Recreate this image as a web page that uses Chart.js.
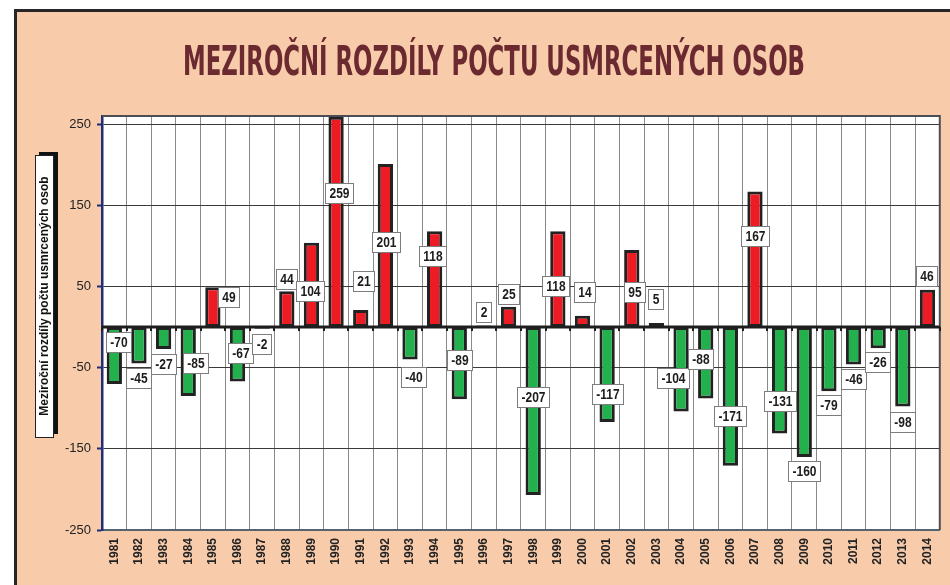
<!DOCTYPE html>
<html>
<head>
<meta charset="utf-8">
<script src="https://cdn.jsdelivr.net/npm/chart.js@4.4.1/dist/chart.umd.min.js"></script>
<style>
  html, body { margin: 0; padding: 0; background: #fff; }
  #wrap { width: 950px; height: 585px; }
</style>
</head>
<body>
<div id="wrap"><canvas id="chart" width="950" height="585"></canvas></div>
<script>
const years = ['1981', '1982', '1983', '1984', '1985', '1986', '1987', '1988', '1989', '1990',
    '1991', '1992', '1993', '1994', '1995', '1996', '1997', '1998', '1999', '2000',
    '2001', '2002', '2003', '2004', '2005', '2006', '2007', '2008', '2009', '2010',
    '2011', '2012', '2013', '2014'];
const diffs = [-70, -45, -27, -85, 49, -67, -2, 44, 104, 259,
    21, 201, -40, 118, -89, 2, 25, -207, 118, 14,
    -117, 95, 5, -104, -88, -171, 167, -131, -160, -79,
    -46, -26, -98, 46];
const yTicks = [-250, -150, -50, 50, 150, 250];

// where each value label sits (axis units) and its sideways nudge in px
const labelAt = [-19, -63, -46, -44, 37, -32, -21, 59, 45, 165,
    57, 105, -61, 87, -40, 18, 41, -86, 50, 43,
    -82, 43, 34, -63, -39, -110, 112, -91, -177, -96,
    -64, -43, -117, 63];
const labelShift = [5, 0, 0, 8, 16, 3, 0, 0, -1, 3,
    3, 1, 4, -2, 1, 0, 0, 0, -2, 3,
    1, 3, 0, -8, -5, 0, 0, 0, 0, 0,
    0, 0, 0, 0];

const chartTitle = 'MEZIROČNÍ ROZDÍLY POČTU USMRCENÝCH OSOB';
const axisTitle = 'Meziroční rozdíly počtu usmrcených osob';

const SANS = '"Liberation Sans", Arial, sans-serif';
const NARROW = '"Liberation Sans Narrow", "Arial Narrow", "DejaVu Sans Condensed", sans-serif';
const PEACH = '#f8cbab';

const framePlugin = {
    id: 'frame',
    beforeDraw(chart) {
        const { ctx, chartArea: a } = chart;
        ctx.save();
        ctx.fillStyle = '#fff';
        ctx.fillRect(0, 0, chart.width, chart.height);
        ctx.fillStyle = PEACH;
        ctx.fillRect(15, 10, chart.width - 15, chart.height - 10);
        ctx.fillStyle = '#262626';
        ctx.fillRect(14, 9, 3, chart.height - 9);
        ctx.fillRect(14, 9, chart.width - 14, 3);
        ctx.fillStyle = '#fff';
        ctx.fillRect(a.left, a.top, a.right - a.left, a.bottom - a.top);

        // title, squeezed to the width of the original lettering
        ctx.font = 'bold 40px ' + NARROW;
        ctx.fillStyle = '#6b2a30';
        ctx.textAlign = 'center';
        ctx.textBaseline = 'alphabetic';
        const w = ctx.measureText(chartTitle).width;
        ctx.translate(494, 75);
        ctx.scale(622 / w, 1);
        ctx.fillText(chartTitle, 0, 0);
        ctx.restore();

        // boxed y axis title with shadow
        ctx.save();
        ctx.fillStyle = '#111';
        ctx.fillRect(39, 152, 19, 282);
        ctx.fillStyle = '#fff';
        ctx.fillRect(35, 155, 18, 282);
        ctx.strokeStyle = '#222';
        ctx.lineWidth = 1;
        ctx.strokeRect(35.5, 155.5, 18, 282);
        ctx.translate(45, 296);
        ctx.rotate(-Math.PI / 2);
        ctx.font = 'bold 12px ' + SANS;
        ctx.fillStyle = '#111';
        ctx.textAlign = 'center';
        ctx.textBaseline = 'middle';
        ctx.fillText(axisTitle, 0, 0);
        ctx.restore();
    },
    afterDatasetsDraw(chart) {
        const { ctx, chartArea: a, scales: { x, y } } = chart;
        const zero = y.getPixelForValue(0);
        const half = (x.getPixelForValue(1) - x.getPixelForValue(0)) / 2;
        ctx.save();

        // plot frame top and right
        ctx.strokeStyle = '#4a4f55';
        ctx.lineWidth = 2;
        ctx.beginPath();
        ctx.moveTo(a.left, a.top);
        ctx.lineTo(a.right, a.top);
        ctx.lineTo(a.right, a.bottom);
        ctx.stroke();

        // category axis crossing at zero, with small ticks
        ctx.strokeStyle = '#1e1e1e';
        ctx.lineWidth = 3;
        ctx.beginPath();
        ctx.moveTo(a.left, zero);
        ctx.lineTo(a.right, zero);
        ctx.stroke();
        ctx.lineWidth = 2;
        ctx.beginPath();
        for (let i = 0; i <= years.length; i++) {
            const px = Math.round(x.getPixelForValue(i) - half);
            ctx.moveTo(px, zero);
            ctx.lineTo(px, zero + 4);
        }
        ctx.stroke();

        // value labels (narrowed Liberation Sans bold)
        const squeeze = 0.8;
        ctx.font = 'bold 15px ' + SANS;
        ctx.textAlign = 'center';
        ctx.textBaseline = 'middle';
        const meta = chart.getDatasetMeta(0);
        diffs.forEach((v, i) => {
            const txt = String(v);
            const cx = Math.round(meta.data[i].x + labelShift[i]);
            const cy = Math.round(y.getPixelForValue(labelAt[i]));
            const bw = Math.round(ctx.measureText(txt).width * squeeze + 8);
            const bh = 20;
            const bx = cx - Math.round(bw / 2);
            const by = cy - Math.round(bh / 2);
            ctx.fillStyle = '#fff';
            ctx.fillRect(bx, by, bw, bh);
            ctx.strokeStyle = '#7d7d7d';
            ctx.lineWidth = 1;
            ctx.strokeRect(bx + 0.5, by + 0.5, bw, bh);
            ctx.save();
            ctx.translate(bx + bw / 2 + 0.5, cy + 1);
            ctx.scale(squeeze, 1);
            ctx.fillStyle = '#1c1c1c';
            ctx.fillText(txt, 0, 0);
            ctx.restore();
        });
        ctx.restore();
    }
};

new Chart(document.getElementById('chart'), {
    type: 'bar',
    data: {
        labels: years,
        datasets: [{
            data: diffs,
            backgroundColor: diffs.map(v => v >= 0 ? '#ed1c24' : '#22b14c'),
            borderColor: '#222',
            borderWidth: 3,
            borderSkipped: false,
            barPercentage: 0.62,
            categoryPercentage: 1.0
        }]
    },
    options: {
        responsive: false,
        animation: false,
        layout: { padding: { top: 116, left: 0, right: 9, bottom: 0 } },
        plugins: {
            legend: { display: false },
            title: { display: false },
            tooltip: { enabled: false }
        },
        scales: {
            x: {
                afterFit: s => { s.height = 55; },
                grid: { offset: true, color: '#8a8a8a', lineWidth: 1, drawTicks: false },
                border: { color: '#56646f', width: 2 },
                ticks: {
                    autoSkip: false, minRotation: 90, maxRotation: 90, padding: 8,
                    color: '#222', font: { family: SANS, size: 12, weight: 'bold' }
                }
            },
            y: {
                min: -250,
                max: 260,
                afterBuildTicks: s => { s.ticks = yTicks.map(v => ({ value: v })); },
                afterFit: s => { s.width = 102; },
                grid: { color: '#3a3a3a', lineWidth: 1, tickLength: 5, tickColor: '#1f2d7a', tickWidth: 2 },
                border: { color: '#1f2d7a', width: 2.5 },
                ticks: { color: '#222', font: { family: SANS, size: 13 }, padding: 6 }
            }
        }
    },
    plugins: [framePlugin]
});
</script>
</body>
</html>
